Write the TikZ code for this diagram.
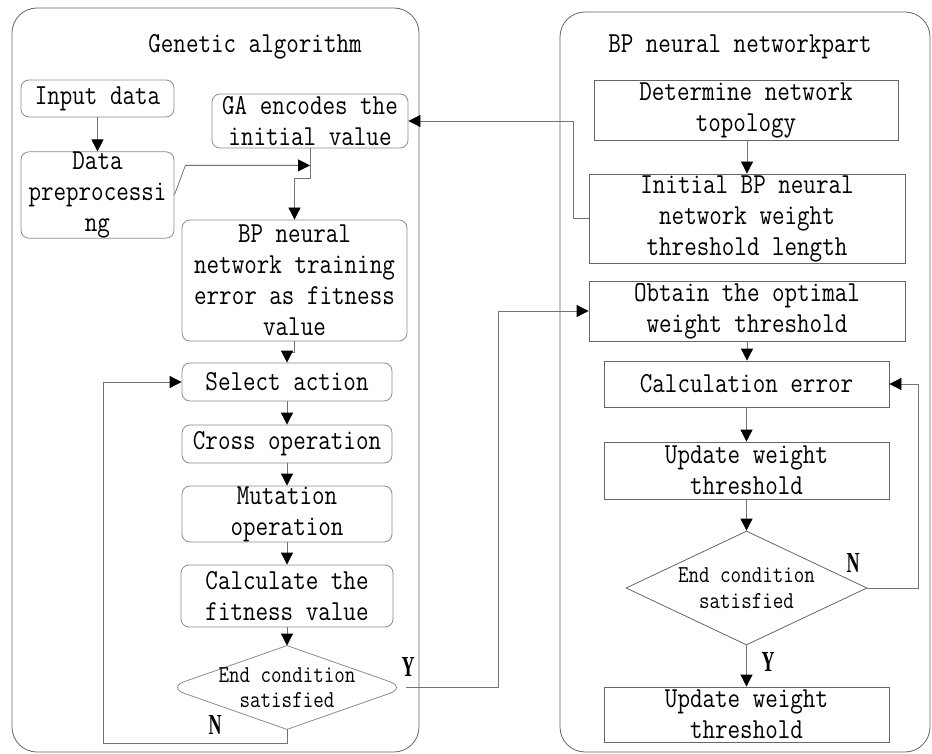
\documentclass[tikz,border=0pt]{standalone}
\usepackage{fontspec}
\newfontfamily\boxfont[FakeStretch=0.84]{Latin Modern Mono}
\newfontfamily\labfont[FakeStretch=0.62]{Liberation Serif}
\usetikzlibrary{arrows.meta,shapes.geometric,calc}

\begin{document}
\begin{tikzpicture}[x=1pt,y=-1pt,line width=0.8pt,
  txt/.style={font=\boxfont\fontsize{29}{31}\selectfont, align=center, inner sep=0pt},
  dtxt/.style={font=\boxfont\fontsize{24.3}{25.5}\selectfont, align=center, inner sep=0pt},
  rbox/.style={txt, draw=black!45, rounded corners=8pt},
  sbox/.style={txt, draw=black!60},
  panel/.style={draw=black!60, rounded corners=25pt, inner sep=0pt},
  yn/.style={font=\labfont\bfseries\fontsize{29}{29}\selectfont, inner sep=0pt},
  arr/.style={draw=black!55, -{Triangle[length=12pt,width=12pt,color=black]}},
  link/.style={draw=black!55}
]
\useasboundingbox (0,0) rectangle (932,754);

% panels
\node[panel, minimum width=407pt, minimum height=744pt] (gapanel) at (215.5,380) {};
\node[panel, minimum width=370pt, minimum height=740pt] (bppanel) at (745,382) {};
\node[txt] (gatitle) at (255,47) {Genetic algorithm};
\node[txt] (bptitle) at (740,47) {BP neural networkpart};

% genetic algorithm part
\node[rbox, minimum width=153pt, minimum height=37pt] (input) at (97.5,98.5) {Input data};
\node[rbox, minimum width=153pt, minimum height=86pt] (prep) at (97.5,195) {Data\\preprocessi\\ng};
\node[rbox, minimum width=196pt, minimum height=54pt] (ga) at (310,121) {GA encodes the\\initial value};
\node[rbox, minimum width=225pt, minimum height=121pt] (bp) at (294.5,280.5) {BP neural\\network training\\error as fitness\\value};
\node[rbox, minimum width=210pt, minimum height=38pt] (select) at (287,382) {Select action};
\node[rbox, minimum width=210pt, minimum height=38pt] (cross) at (287,444) {Cross operation};
\node[rbox, minimum width=210pt, minimum height=56pt] (mut) at (287,514) {Mutation\\operation};
\node[rbox, minimum width=212pt, minimum height=62pt] (fit) at (287,596) {Calculate the\\fitness value};
% decision with blunt side points
\node[diamond, minimum width=238pt, minimum height=83pt, inner sep=0pt] (end1) at (287,687.5) {};
\draw[draw=black!45] (end1.north) [rounded corners=18pt] -- (end1.east) [sharp corners] -- (end1.south)
  [rounded corners=18pt] -- (end1.west) [sharp corners] -- cycle;
\node[dtxt] (end1t) at (end1) {End condition\\satisfied};

% BP neural network part
\node[sbox, minimum width=304pt, minimum height=60pt] (topo) at (746,110) {Determine network\\topology};
\node[sbox, minimum width=316pt, minimum height=89pt] (init) at (747,218.5) {Initial BP neural\\network weight\\threshold length};
\node[sbox, minimum width=316pt, minimum height=60pt] (opt) at (747,311) {Obtain the optimal\\weight threshold};
\node[sbox, minimum width=285pt, minimum height=46pt] (err) at (746.5,384) {Calculation error};
\node[sbox, minimum width=285pt, minimum height=57pt] (upd) at (746.5,470.5) {Update weight\\threshold};
\node[diamond, draw=black!60, minimum width=241pt, minimum height=114pt, inner sep=0pt] (end2) at (746.5,588) {};
\node[dtxt] (end2t) at (end2) {End condition\\satisfied};
\node[sbox, minimum width=285pt, minimum height=55pt] (final) at (746.5,714.5) {Update weight\\threshold};

% helper points
\coordinate (j1) at ($(ga.south)+(0,17)$);
\coordinate (j0) at ($(prep.east)+(11,0)$);
\coordinate (nl) at (103,743);
\coordinate (yc) at (498,687.5);
\coordinate (nr) at (918,588);

% connectors, left
\draw[arr] (input.south) -- (input.south |- prep.north);
\draw[arr] (prep.east) -- (j0 |- j1) -- (j1);
\draw[arr] (ga.south) -- ++(0,30) -| (bp.north);
\draw[arr] (bp.south) -- ++(0,11) -| (select.north);
\draw[arr] (select.south) -- (select.south |- cross.north);
\draw[arr] (cross.south) -- (cross.south |- mut.north);
\draw[arr] (mut.south) -- (mut.south |- fit.north);
\draw[arr] (fit.south) -- (fit.south |- end1.north);
\draw[arr] (end1.south) |- (nl) |- (select.west);
\node[yn] (n1) at (215,725) {N};
\node[yn] (y1) at (408,667) {Y};

% connectors, between parts
\draw[arr] (init.west) -- ++(-15,0) |- (ga.east);
\draw[arr] (end1.east) -- (yc) |- (opt.west);

% connectors, right
\draw[arr] (topo.south -| init.north) -- (init.north);
\draw[arr] (opt.south) -- (opt.south |- err.north);
\draw[arr] (err.south) -- (err.south |- upd.north);
\draw[arr] (upd.south) -- (upd.south |- end2.north);
\draw[arr] (end2.south) -- (end2.south |- final.north);
\draw[arr] (end2.east) -- (nr) |- (err.east);
\node[yn] (n2) at (853,563) {N};
\node[yn] (y2) at (768,662) {Y};
\end{tikzpicture}
\end{document}
